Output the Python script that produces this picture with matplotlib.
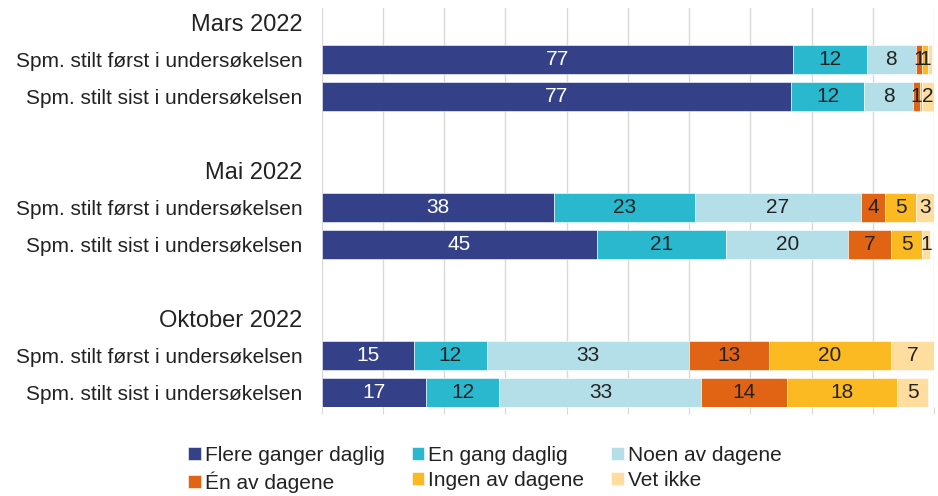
import numpy as np
import matplotlib.pyplot as plt

plt.rcParams['font.family'] = ['Liberation Sans', 'DejaVu Sans']

# Data
rows = ['Mars 2022', 'Spm. stilt først i undersøkelsen', 'Spm. stilt sist i undersøkelsen', '',
        'Mai 2022', 'Spm. stilt først i undersøkelsen', 'Spm. stilt sist i undersøkelsen', '',
        'Oktober 2022', 'Spm. stilt først i undersøkelsen', 'Spm. stilt sist i undersøkelsen']
headers = ['Mars 2022', 'Mai 2022', 'Oktober 2022']
bar_rows = [1, 2, 5, 6, 9, 10]

categories = ['Flere ganger daglig', 'En gang daglig', 'Noen av dagene',
              'Én av dagene', 'Ingen av dagene', 'Vet ikke']
flere = [77, 76.6, 38, 45, 15, 17]
en_gang = [12, 12, 23, 21, 12, 12]
noen = [8, 8, 27, 20, 33, 33]
en_av = [1, 1, 4, 7, 13, 14]
ingen = [1, 0.4, 5, 5, 20, 18]
vet_ikke = [0.7, 2, 3, 1.3, 7, 5]
series = [flere, en_gang, noen, en_av, ingen, vet_ikke]

colors = ['#344189', '#29b8ce', '#b5dfe8', '#e06414', '#fbb922', '#fedd9f']
text_colors = ['white', '#222222', '#222222', '#222222', '#222222', '#222222']

fig = plt.figure(figsize=(9.38, 4.96), dpi=100)
ax = fig.add_axes([0.343, 0.179, 0.653, 0.805])

left = np.zeros(len(bar_rows))
handles = {}
for i, vals in enumerate(series):
    vals = np.array(vals, dtype=float)
    b = ax.barh(bar_rows, vals, left=left, height=0.79, color=colors[i],
                edgecolor='white', linewidth=0.4, label=categories[i], zorder=3)
    handles[categories[i]] = b
    for y, l, v in zip(bar_rows, left, vals):
        if v >= 1:
            ax.text(l + v / 2, y, f'{round(v):d}', ha='center', va='center',
                    fontsize=15, color=text_colors[i], zorder=4)
    left += vals

ax.set_xlim(0, 100)
ax.set_ylim(10.4, -0.4)
ax.set_xticks(np.arange(0, 101, 10))
ax.set_xticklabels([])
ax.tick_params(axis='x', length=5, color='#d9d9d9', direction='out')
ax.grid(axis='x', color='#d9d9d9', linewidth=1, zorder=0)
ax.set_yticks(range(len(rows)))
ax.set_yticklabels(rows)
ax.tick_params(axis='y', length=0, pad=14)
for lab in ax.get_yticklabels():
    if lab.get_text() in headers:
        lab.set_fontsize(17)
    else:
        lab.set_fontsize(15)
    lab.set_color('#222222')
for s in ['top', 'right', 'left', 'bottom']:
    ax.spines[s].set_visible(False)

order = ['Flere ganger daglig', 'Én av dagene', 'En gang daglig',
         'Ingen av dagene', 'Noen av dagene', 'Vet ikke']
leg = fig.legend([handles[k] for k in order], order, ncol=3, loc='upper center',
                 bbox_to_anchor=(0.517, 0.122), frameon=False, fontsize=15,
                 handlelength=0.6, handleheight=0.6, handletextpad=0.2,
                 columnspacing=1.3, labelspacing=0.3, borderpad=0)
for t in leg.get_texts():
    t.set_color('#222222')

fig.savefig('out.png', dpi=100)
